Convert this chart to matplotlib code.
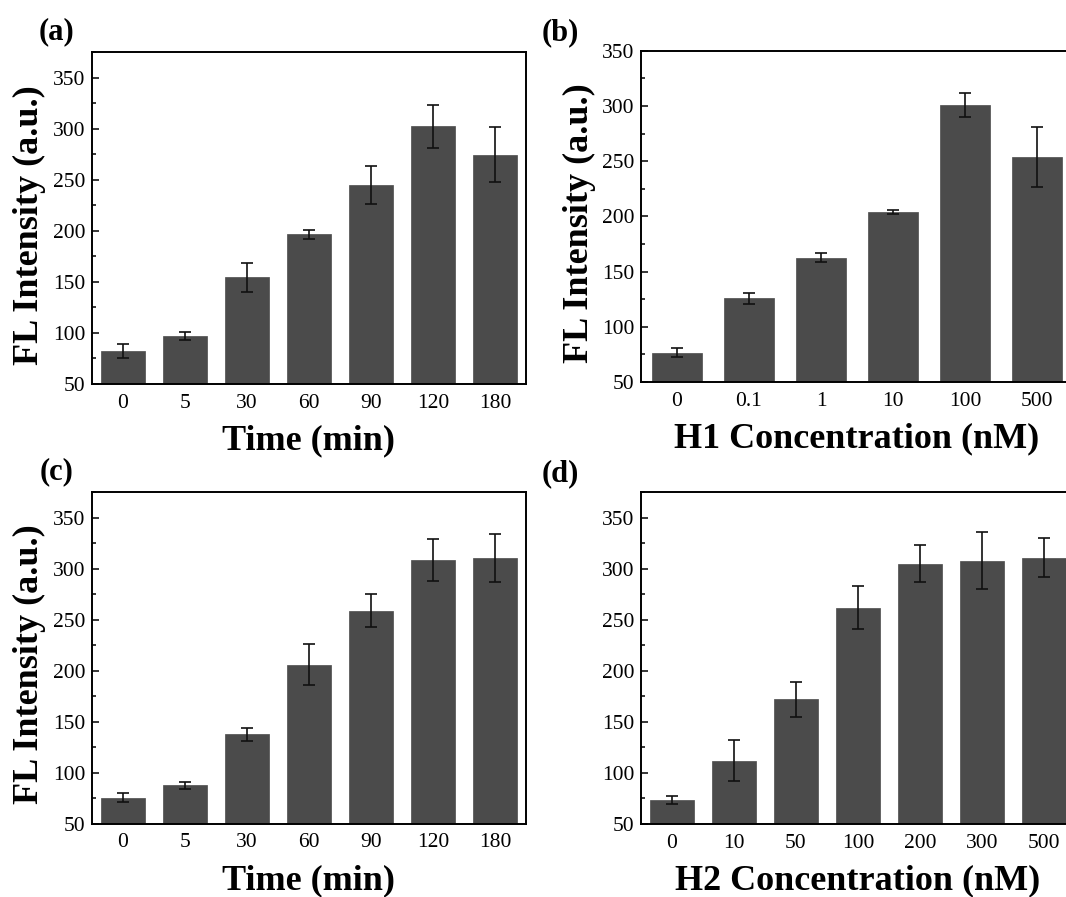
import matplotlib
matplotlib.use("Agg")
import matplotlib.pyplot as plt
from matplotlib.ticker import MultipleLocator

plt.rcParams['font.family'] = ['Liberation Serif', 'DejaVu Serif']

# ---- data ----
time_labels = ['0', '5', '30', '60', '90', '120', '180']
a_values = [82, 97, 154.5, 196.5, 245, 302.5, 274.5]
a_errors = [7, 4.3, 14, 4.6, 19, 21, 27]

h1_labels = ['0', '0.1', '1', '10', '100', '500']
b_values = [76.5, 126, 162.5, 204, 301, 254]
b_errors = [4, 5, 3.9, 2.1, 11, 27]

c_values = [75.5, 87.5, 137.5, 206, 259, 308.5, 310.5]
c_errors = [4.2, 3.6, 6.7, 20.5, 16.3, 20.6, 23.8]

h2_labels = ['0', '10', '50', '100', '200', '300', '500']
d_values = [73.5, 112, 172, 262, 305, 308, 311]
d_errors = [3.9, 20, 17.3, 21, 18.3, 27.7, 19]

W, H = 1066, 897
fig = plt.figure(figsize=(W / 100, H / 100), dpi=100)

BAR_COLOR = '#4b4b4b'


def box(l, t, r, b):
    return [l / W, 1 - b / H, (r - l) / W, (b - t) / H]


def panel(rect, labels, vals, errs, ylim, xlabel, ylabel, tag, tag_xy):
    ax = fig.add_axes(rect)
    x = list(range(len(labels)))
    ax.bar(x, vals, width=0.7, color=BAR_COLOR, edgecolor=BAR_COLOR, linewidth=0.5, zorder=2)
    ax.errorbar(x, vals, yerr=errs, fmt='none', ecolor='#111111', elinewidth=1.2,
                capsize=4, capthick=1.2, zorder=3)
    ax.set_xlim(-0.5, len(labels) - 0.5)
    ax.set_ylim(*ylim)
    ax.set_xticks(x)
    ax.set_xticklabels(labels)
    ax.yaxis.set_major_locator(MultipleLocator(50))
    ax.yaxis.set_minor_locator(MultipleLocator(25))
    ax.tick_params(axis='both', which='both', direction='in', top=False, right=False,
                   labelsize=15.5, width=1.1)
    ax.tick_params(axis='both', which='major', length=5)
    ax.tick_params(axis='y', which='minor', length=3)
    ax.tick_params(axis='x', which='major', pad=7)
    ax.tick_params(axis='y', which='major', pad=5)
    for sp in ax.spines.values():
        sp.set_linewidth(1.4)
        sp.set_zorder(4)
    ax.set_xlabel(xlabel, fontsize=26, fontweight='bold')
    ax.xaxis.set_label_coords(0.5, -0.172)
    ax.xaxis.label.set_verticalalignment('center')
    if ylabel:
        ax.set_ylabel(ylabel, fontsize=26, fontweight='bold')
        ax.yaxis.set_label_coords(-0.143, 0.48)
        ax.yaxis.label.set_verticalalignment('center')
    fig.text(tag_xy[0] / W, 1 - tag_xy[1] / H, tag, fontsize=22, fontweight='bold',
             ha='center', va='center')
    return ax


panel(box(92, 52.3, 526, 384), time_labels, a_values, a_errors, (50, 375),
      'Time (min)', 'FL Intensity (a.u.)', '(a)', (57, 32))
panel(box(641, 50.7, 1073, 382), h1_labels, b_values, b_errors, (50, 350),
      'H1 Concentration (nM)', 'FL Intensity (a.u.)', '(b)', (560, 33))
panel(box(92, 492.3, 526, 823.5), time_labels, c_values, c_errors, (50, 375),
      'Time (min)', 'FL Intensity (a.u.)', '(c)', (57, 472))
panel(box(641, 492.3, 1075, 824), h2_labels, d_values, d_errors, (50, 375),
      'H2 Concentration (nM)', None, '(d)', (560, 474))

fig.savefig('out.png', dpi=100)
